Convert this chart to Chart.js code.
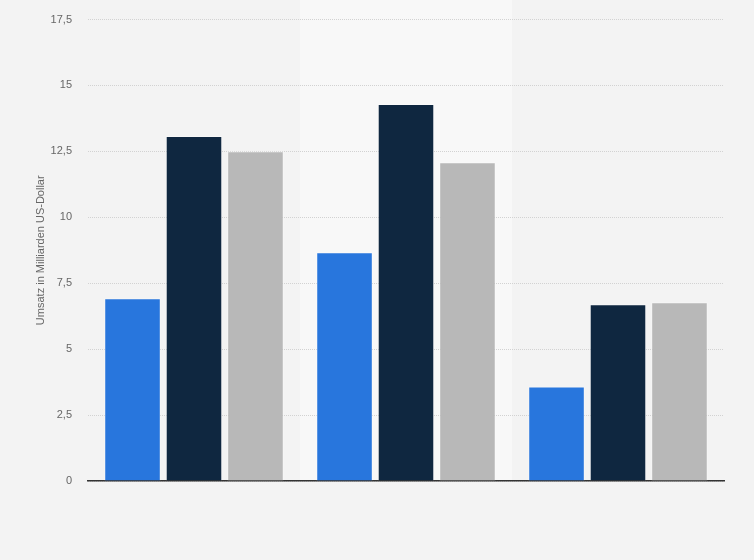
<!DOCTYPE html>
<html>
<head>
<meta charset="utf-8">
<script src="https://cdn.jsdelivr.net/npm/chart.js@4/dist/chart.umd.min.js"></script>
<style>
  html, body { margin: 0; padding: 0; background: #f3f3f3; }
  #wrap { width: 754px; height: 560px; position: relative; }
</style>
</head>
<body>
<div id="wrap"><canvas id="c" width="754" height="560"></canvas></div>
<script>
const categories = ['', '', ''];
const seriesNames = ['Serie 1', 'Serie 2', 'Serie 3'];
const series1 = [6.93, 8.67, 3.58];
const series2 = [13.08, 14.3, 6.7];
const series3 = [12.5, 12.09, 6.78];
const yTicks = [0, 2.5, 5, 7.5, 10, 12.5, 15, 17.5];
const yTitle = 'Umsatz in Milliarden US-Dollar';

const bandPlugin = {
  id: 'band',
  beforeDraw(chart) {
    const ctx = chart.ctx;
    const x = chart.scales.x;
    const area = chart.chartArea;
    ctx.save();
    ctx.fillStyle = '#f3f3f3';
    ctx.fillRect(0, 0, chart.width, chart.height);
    const w = (area.right - area.left) / categories.length;
    ctx.fillStyle = '#f8f8f8';
    for (let i = 1; i < categories.length; i += 2) {
      const cx = x.getPixelForValue(i);
      ctx.fillRect(cx - w / 2, 0, w, area.bottom);
    }
    ctx.restore();
  }
};

const border = 'rgba(255,255,255,0.35)';
new Chart(document.getElementById('c'), {
  type: 'bar',
  data: {
    labels: categories,
    datasets: [
      { label: seriesNames[0], data: series1, backgroundColor: '#2876dd', borderColor: border, borderWidth: 1 },
      { label: seriesNames[1], data: series2, backgroundColor: '#0f2740', borderColor: border, borderWidth: 1 },
      { label: seriesNames[2], data: series3, backgroundColor: '#b8b8b8', borderColor: border, borderWidth: 1 }
    ]
  },
  options: {
    responsive: false,
    animation: false,
    devicePixelRatio: 1,
    categoryPercentage: 0.87,
    barPercentage: 0.92,
    layout: { padding: { top: 19.5, right: 30, bottom: 79, left: 0 } },
    plugins: { legend: { display: false }, tooltip: { enabled: false } },
    scales: {
      x: {
        grid: { display: false, drawTicks: false },
        border: { display: true, color: '#333333', width: 1.5 },
        ticks: { display: false },
        afterFit(scale) { scale.paddingLeft = 0; scale.paddingRight = 0; }
      },
      y: {
        min: 0, max: 17.5,
        afterBuildTicks(scale) { scale.ticks = yTicks.map(v => ({ value: v })); },
        afterFit(scale) { scale.width = 88; scale.paddingTop = 0; scale.paddingBottom = 0; },
        grid: { color: '#d2d2d2', lineWidth: 1, drawTicks: false },
        border: { display: false, dash: [1, 1] },
        ticks: {
          padding: 16,
          color: '#666666',
          font: { family: 'Liberation Sans, Arial, sans-serif', size: 11 },
          callback: v => String(v).replace('.', ',')
        },
        title: {
          display: true,
          text: yTitle,
          color: '#666666',
          font: { family: 'Liberation Sans, Arial, sans-serif', size: 11 },
          padding: { top: 34, bottom: 0 }
        }
      }
    }
  },
  plugins: [bandPlugin]
});
</script>
</body>
</html>
